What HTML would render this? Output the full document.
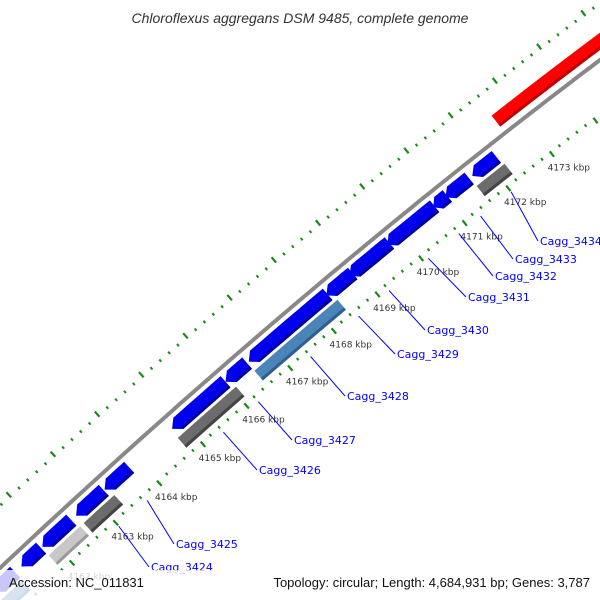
<!DOCTYPE html>
<html><head><meta charset="utf-8"><style>
html,body{margin:0;padding:0;background:#fff;width:600px;height:600px;overflow:hidden;}
svg{display:block;font-family:"Liberation Sans",sans-serif;}
</style></head><body>
<svg id="map" width="600" height="600" viewBox="0 0 600 600" xmlns="http://www.w3.org/2000/svg" overflow="hidden">
<rect width="600" height="600" fill="#fff"/>
<text x="300" y="23" text-anchor="middle" font-size="14" font-style="italic" fill="#333">Chloroflexus aggregans DSM 9485, complete genome</text>
<g id="ticks"></g>
<path id="backbone" d="" fill="none" stroke="#888" stroke-width="4"/>
<g id="feats"></g>
<g id="labels"></g>
<rect x="0" y="570" width="600" height="30" fill="#fff" opacity="0.78"/>
<text x="9" y="587" font-size="13" fill="#111">Accession: NC_011831</text>
<text x="590" y="587" font-size="13" fill="#111" text-anchor="end">Topology: circular; Length: 4,684,931 bp; Genes: 3,787</text>
</svg>
<script>
const blueStarts=[4160.72,4161.34,4161.82,4162.59,4163.24,4164.78,4166.0,4166.53,4168.3,4168.83,4169.69,4170.74,4171.02,4171.63];
const blueEnds=[4161.2,4161.79,4162.48,4163.22,4163.8,4166.0,4166.49,4168.33,4168.9,4169.74,4170.77,4171.06,4171.56,4172.18];
const lowStarts=[4160.6,4161.8,4162.6,4164.75,4166.5,4171.58];
const lowEnds=[4161.18,4162.52,4163.3,4166.08,4168.4,4172.22];
const lowKinds=['steel','light','dark','dark','steel','dark'];
const redStarts=[4172.57];
const redEnds=[4178];
const tickLabels=['4162 kbp','4163 kbp','4164 kbp','4165 kbp','4166 kbp','4167 kbp','4168 kbp','4169 kbp','4170 kbp','4171 kbp','4172 kbp','4173 kbp'];
const tickKbp=[4162,4163,4164,4165,4166,4167,4168,4169,4170,4171,4172,4173];
const geneNames=['Cagg_3424','Cagg_3425','Cagg_3426','Cagg_3427','Cagg_3428','Cagg_3429','Cagg_3430','Cagg_3431','Cagg_3432','Cagg_3433','Cagg_3434'];
const geneLabelX=[151,176,259,294,347,397,427,468,495,515,540];
const geneLabelY=[571,548,474,444,400,358,334,301,280,263,245];
const geneKbp=[4163.0,4163.65,4165.4,4166.2,4167.4,4168.5,4169.2,4170.1,4170.8,4171.3,4172.0];

const NS='http://www.w3.org/2000/svg';
function fy(x){return 568-0.94*x+0.0001556*x*x;}
function kx(k){return 85+(k-4163)*43.9;}
function P(k,off){const x=kx(k);const s=-0.94+0.0003112*x;const n=Math.hypot(1,s);return [x+off*(-s)/n, fy(x)+off*1/n];}
function poly(pts,fill,g){const e=document.createElementNS(NS,'polygon');e.setAttribute('points',pts.map(p=>p[0].toFixed(1)+','+p[1].toFixed(1)).join(' '));e.setAttribute('fill',fill);g.appendChild(e);return e;}
function band(a,b,o1,o2){const pts=[];const N=8;for(let i=0;i<=N;i++)pts.push(P(a+(b-a)*i/N,o1));for(let i=N;i>=0;i--)pts.push(P(a+(b-a)*i/N,o2));return pts;}

let d='';for(let x=-20;x<=620;x+=10){d+=(x==-20?'M':'L')+x+' '+fy(x).toFixed(1)+' ';}
document.getElementById('backbone').setAttribute('d',d);

const tg=document.getElementById('ticks');
for(let i=0;i<=110;i++){const k=4160+i*0.2;const major=Math.abs(k-Math.round(k))<0.01;
 [[42,major?49:45],[-44,major?-51:-47]].forEach(o=>{const a=P(k,o[0]),b=P(k,o[1]);const l=document.createElementNS(NS,'line');
 l.setAttribute('x1',a[0]);l.setAttribute('y1',a[1]);l.setAttribute('x2',b[0]);l.setAttribute('y2',b[1]);
 l.setAttribute('stroke','#1a8a1a');l.setAttribute('stroke-width',major?2.2:2);
 
 tg.appendChild(l);});}
tickKbp.forEach((k,i)=>{const p=P(k,45);const t=document.createElementNS(NS,'text');t.setAttribute('x',p[0]-4);t.setAttribute('y',p[1]+17);
 t.setAttribute('font-size','9');t.setAttribute('fill','#333');t.setAttribute('font-family','DejaVu Sans, sans-serif');t.textContent=tickLabels[i];
 
 tg.appendChild(t);});

const fg=document.getElementById('feats');
blueStarts.forEach((a,i)=>{const b=blueEnds[i];const h=Math.min(0.14,(b-a)*0.4);
 const top=[],bot=[];const N=6;for(let j=0;j<=N;j++){top.push(P(a+h+(b-a-h)*j/N,6));}
 for(let j=N;j>=0;j--){bot.push(P(a+h+(b-a-h)*j/N,21));}
 const pts=[P(a,13.5)].concat(top,bot);
 const e=poly(pts,'#0000ee',fg);
 const s2=band(a+h,b,18,21);poly(s2,'#0000a0',fg);
});
const colors={steel:['#4a84b8','#2f5f8c'],light:['#c8c8c8','#9a9a9a'],dark:['#6c6c6c','#444']};
lowStarts.forEach((a,i)=>{const c=colors[lowKinds[i]];
 const e=poly(band(a,lowEnds[i],24,37),c[0],fg);
 poly(band(a,lowEnds[i],34,37),c[1],fg);});
redStarts.forEach((a,i)=>{const e=poly(band(a,redEnds[i],-22,-8),'#ff0000',fg);
 poly(band(a,redEnds[i],-11,-8),'#c00000',fg);});

const lg=document.getElementById('labels');
geneNames.forEach((n,i)=>{const p=P(geneKbp[i],50);const l=document.createElementNS(NS,'line');
 l.setAttribute('x1',p[0]);l.setAttribute('y1',p[1]);l.setAttribute('x2',geneLabelX[i]-2);l.setAttribute('y2',geneLabelY[i]-4);
 l.setAttribute('stroke','#0000ff');l.setAttribute('stroke-width','1');
 
 lg.appendChild(l);
 const t=document.createElementNS(NS,'text');t.setAttribute('x',geneLabelX[i]);t.setAttribute('y',geneLabelY[i]);
 t.setAttribute('font-size','11');t.setAttribute('fill','#0000ff');t.setAttribute('font-family','DejaVu Sans, sans-serif');t.textContent=n;
 
 lg.appendChild(t);});
</script>
</body></html>
